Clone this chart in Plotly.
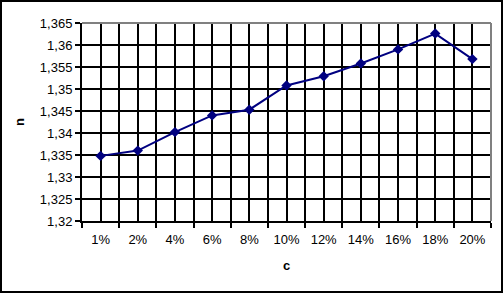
import plotly.graph_objects as go

categories = ["1%", "2%", "4%", "6%", "8%", "10%", "12%", "14%", "16%", "18%", "20%"]
n_values = [1.3348, 1.3360, 1.3402, 1.3440, 1.3453, 1.3508, 1.3529, 1.3558, 1.3590, 1.3626, 1.3568]
y_tick_values = [1.32, 1.325, 1.33, 1.335, 1.34, 1.345, 1.35, 1.355, 1.36, 1.365]
y_tick_labels = ["1,32", "1,325", "1,33", "1,335", "1,34", "1,345", "1,35", "1,355", "1,36", "1,365"]

W, H = 503, 293
L, R, T, B = 82, 12, 23, 72
pw, ph = W - L - R, H - T - B

x_idx = list(range(len(categories)))
boundaries = [i - 0.5 for i in range(len(categories) + 1)]

fig = go.Figure()
fig.add_trace(go.Scatter(
    x=x_idx, y=n_values, mode="lines+markers",
    line=dict(color="#000080", width=2),
    marker=dict(symbol="diamond", size=8, color="#000080"),
    showlegend=False, cliponaxis=False,
))

font = dict(family="Liberation Sans, Arial, sans-serif", size=13, color="black")

fig.update_layout(
    width=W, height=H,
    margin=dict(l=L, r=R, t=T, b=B),
    paper_bgcolor="white", plot_bgcolor="white",
    font=font,
    xaxis=dict(
        range=[-0.5, len(categories) - 0.5],
        tickmode="array", tickvals=x_idx, ticktext=categories,
        ticks="outside", ticklen=5, tickcolor="rgba(0,0,0,0)",
        showgrid=True, gridcolor="black", gridwidth=2,
        minor=dict(tickmode="array", tickvals=boundaries, ticks="outside", ticklen=5,
                   tickcolor="black", tickwidth=2, showgrid=True, gridcolor="black", gridwidth=2),
        showline=True, linecolor="black", linewidth=2,
        zeroline=False,
        title=dict(text="<b>c</b>", standoff=15, font=font),
        tickfont=font,
    ),
    yaxis=dict(
        range=[1.32, 1.365],
        tickmode="array", tickvals=y_tick_values, ticktext=y_tick_labels,
        ticks="outside", ticklen=5, tickcolor="black", tickwidth=2,
        showgrid=True, gridcolor="black", gridwidth=2,
        showline=True, linecolor="black", linewidth=2,
        zeroline=False,
        title=dict(text="<b>n</b>", standoff=12, font=font),
        tickfont=font,
    ),
    shapes=[
        # gray plot-area border top and right
        dict(type="line", xref="paper", yref="paper", x0=0, x1=1, y0=1, y1=1,
             line=dict(color="#808080", width=2), layer="above"),
        dict(type="line", xref="paper", yref="paper", x0=1, x1=1, y0=0, y1=1,
             line=dict(color="#808080", width=2), layer="above"),
        # outer chart border
        dict(type="rect", xref="paper", yref="paper",
             x0=(1 - L) / pw, x1=(W - 1 - L) / pw,
             y0=(H - B - (H - 1)) / ph, y1=(H - B - 1) / ph,
             line=dict(color="black", width=2), fillcolor="rgba(0,0,0,0)", layer="above"),
    ],
)

fig.write_html("out.html")
